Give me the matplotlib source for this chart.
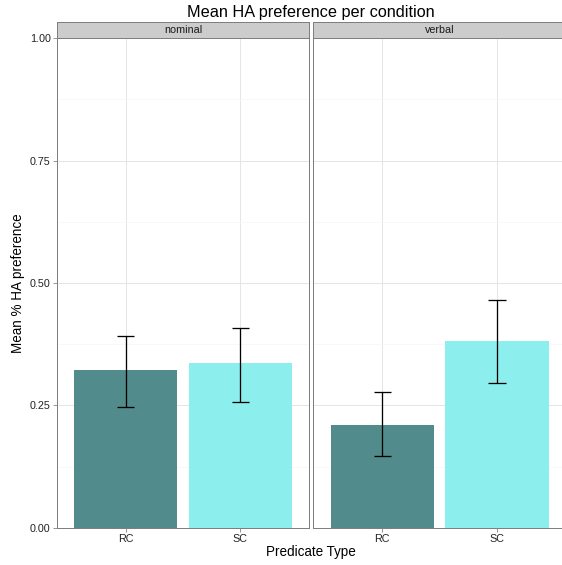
import numpy as np
import matplotlib.pyplot as plt

plt.rcParams['font.family'] = ['Liberation Sans', 'DejaVu Sans']

conditions = ['nominal', 'verbal']
pred_types = ['RC', 'SC']
means = {'nominal': [0.322, 0.336], 'verbal': [0.210, 0.381]}
lower = {'nominal': [0.246, 0.257], 'verbal': [0.146, 0.296]}
upper = {'nominal': [0.391, 0.408], 'verbal': [0.278, 0.465]}
bar_colors = ['#528B8B', '#8DEEEE']

W, H = 562, 565
fig = plt.figure(figsize=(W / 72, H / 72), dpi=72)

px_left = [56.7, 313.3]
px_w = 252.6
px_top, px_bottom = 38.3, 527.7
strip_top = 21.7

border = '#7F7F7F'
for i, cond in enumerate(conditions):
    ax = fig.add_axes([px_left[i] / W, (H - px_bottom) / H, px_w / W, (px_bottom - px_top) / H])
    x = np.arange(len(pred_types))
    ax.bar(x, means[cond], width=0.9, color=bar_colors, zorder=2)
    ax.vlines(x, lower[cond], upper[cond], color='black', lw=1.3, zorder=3)
    ax.hlines(lower[cond], x - 0.075, x + 0.075, color='black', lw=1.3, zorder=3)
    ax.hlines(upper[cond], x - 0.075, x + 0.075, color='black', lw=1.3, zorder=3)

    ax.set_xlim(-0.6, 1.6)
    ax.set_ylim(0, 1)
    ax.set_xticks(x)
    ax.set_xticklabels(pred_types)
    ax.set_yticks([0, 0.25, 0.5, 0.75, 1.0])
    ax.set_yticks([0.125, 0.375, 0.625, 0.875], minor=True)
    ax.set_yticklabels(['0.00', '0.25', '0.50', '0.75', '1.00'])
    ax.grid(True, which='major', color='#E5E5E5', lw=1.0, zorder=0)
    ax.grid(True, which='minor', axis='y', color='#F7F7F7', lw=0.8, zorder=0)
    ax.set_axisbelow(True)
    for s in ax.spines.values():
        s.set_color(border)
        s.set_linewidth(1.0)
        s.set_zorder(4)
    ax.tick_params(axis='both', which='major', length=4, color=border,
                   labelsize=10.8, labelcolor='#222222', pad=2)
    ax.tick_params(axis='y', which='minor', length=0)
    if i > 0:
        ax.tick_params(axis='y', which='both', left=False, labelleft=False)

    sax = fig.add_axes([px_left[i] / W, (H - px_top) / H, px_w / W, (px_top - strip_top) / H])
    sax.set_facecolor('#CCCCCC')
    sax.set_xticks([])
    sax.set_yticks([])
    for s in sax.spines.values():
        s.set_color(border)
        s.set_linewidth(1.0)
    sax.text(0.5, 0.5, cond, ha='center', va='center', fontsize=10.8, color='#1a1a1a',
             transform=sax.transAxes)

center_x = (px_left[0] + px_left[1] + px_w) / 2 / W
fig.text(center_x, 1 - 12 / H, 'Mean HA preference per condition', ha='center', va='center',
         fontsize=16.2)
fig.text(center_x, 1 - 552 / H, 'Predicate Type', ha='center', va='center', fontsize=13.5)
fig.text(18 / W, (H - (px_top + px_bottom) / 2) / H, 'Mean % HA preference', ha='center',
         va='center', rotation=90, fontsize=13.5)

fig.savefig('out.png', dpi=72)
